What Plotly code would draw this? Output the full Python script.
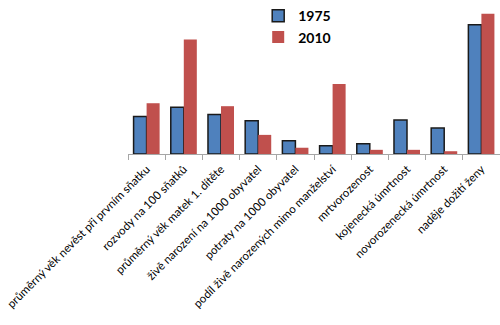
import plotly.graph_objects as go

categories = [
    "průměrný věk nevěst při prvním sňatku",
    "rozvody na 100 sňatků",
    "průměrný věk matek 1. dítěte",
    "živě narození na 1000 obyvatel",
    "potraty na 1000 obyvatel",
    "podíl živě narozených mimo manželství",
    "mrtvorozenost",
    "kojenecká úmrtnost",
    "novorozenecká úmrtnost",
    "naděje dožití ženy",
]
values_1975 = [21.6, 26.9, 22.7, 19.1, 7.6, 4.7, 5.9, 19.5, 14.9, 74.3]
values_2010 = [29.2, 65.9, 27.5, 11.0, 3.6, 40.2, 2.4, 2.4, 1.6, 80.6]

fig = go.Figure()
fig.add_trace(go.Bar(
    name="1975", x=categories, y=values_1975,
    marker=dict(color="#4F81BD", line=dict(color="#1a1a1a", width=1.5)),
))
fig.add_trace(go.Bar(
    name="2010", x=categories, y=values_2010,
    marker=dict(color="#C0504D", line=dict(width=0)),
))

fig.update_layout(
    width=500, height=325,
    margin=dict(l=128, r=0, t=1, b=171),
    paper_bgcolor="white", plot_bgcolor="white",
    barmode="group", bargap=0.3, bargroupgap=0,
    font=dict(family="Lato, sans-serif", color="#000000"),
    showlegend=True,
    legend=dict(
        x=0.35, y=1.005, xanchor="left", yanchor="top",
        bgcolor="rgba(0,0,0,0)",
        font=dict(size=14, family="Lato, sans-serif", weight="bold"),
        itemwidth=30, tracegroupgap=0,
    ),
    xaxis=dict(
        type="category", tickangle=-45, tickson="boundaries",
        ticks="outside", ticklen=5, tickcolor="#a6a6a6",
        showline=True, linecolor="#a6a6a6", linewidth=1,
        showgrid=False, tickfont=dict(size=11.5),
        automargin=False, ticklabelstandoff=3,
    ),
    yaxis=dict(range=[0, 88], visible=False, showgrid=False, zeroline=False),
)

fig.write_html("out.html")
